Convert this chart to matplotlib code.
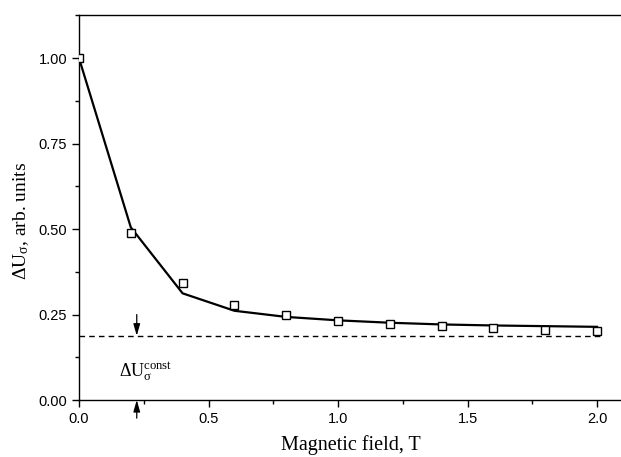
import matplotlib
matplotlib.use('Agg')
from matplotlib import pyplot as plt
from matplotlib.ticker import MultipleLocator, FormatStrFormatter

field = [0.0, 0.2, 0.4, 0.6, 0.8, 1.0, 1.2, 1.4, 1.6, 1.8, 2.0]
measured = [1.00, 0.487, 0.343, 0.279, 0.248, 0.231, 0.221, 0.215, 0.210, 0.206, 0.201]
fitted = [1.00, 0.505, 0.312, 0.261, 0.243, 0.233, 0.226, 0.221, 0.218, 0.216, 0.214]
const_level = 0.188
const_x = [0.0, 2.015]
arrow_x = 0.223

plt.rcParams['mathtext.fontset'] = 'custom'
plt.rcParams['mathtext.rm'] = 'Liberation Serif'
plt.rcParams['mathtext.it'] = 'Liberation Serif:italic'

fig = plt.figure(figsize=(6.21, 4.57), dpi=100)
ax = fig.add_axes([0.1272, 0.1247, 0.876, 0.8425])

ax.plot(field, fitted, color='black', linewidth=1.6, zorder=2)
ax.plot(field, measured, linestyle='none', marker='s', markersize=6,
        markerfacecolor='white', markeredgecolor='black', markeredgewidth=1.0, zorder=3)
ax.plot(const_x, [const_level, const_level], color='black', linestyle=(0, (4, 3)), linewidth=1.0)

arrow_style = dict(arrowstyle='-|>,head_length=0.7,head_width=0.2', color='black', lw=0.9,
                   mutation_scale=10, shrinkA=0, shrinkB=0)
ax.annotate('', xy=(arrow_x, const_level), xytext=(arrow_x, 0.25), arrowprops=arrow_style)
ax.annotate('', xy=(arrow_x, 0.0), xytext=(arrow_x, -0.053), arrowprops=arrow_style,
            annotation_clip=False)
ax.text(0.155, 0.082, r'$\Delta\mathrm{U}_{\mathrm{σ}}^{\mathrm{const}}$', fontsize=13,
        ha='left', va='center')

ax.set_xlim(0, 2.1)
ax.set_ylim(0, 1.126)
ax.xaxis.set_major_locator(MultipleLocator(0.5))
ax.xaxis.set_minor_locator(MultipleLocator(0.25))
ax.yaxis.set_major_locator(MultipleLocator(0.25))
ax.yaxis.set_minor_locator(MultipleLocator(0.125))
ax.xaxis.set_major_formatter(FormatStrFormatter('%.1f'))
ax.yaxis.set_major_formatter(FormatStrFormatter('%.2f'))

ax.tick_params(which='both', direction='out', top=False, right=False,
               labelsize=10.5, width=1.0, colors='black')
ax.tick_params(which='major', length=5)
ax.tick_params(which='minor', length=3)
for label in ax.get_xticklabels() + ax.get_yticklabels():
    label.set_family('Liberation Sans')
for spine in ax.spines.values():
    spine.set_linewidth(1.0)
ax.spines['right'].set_visible(False)

ax.set_xlabel('Magnetic field, T', fontsize=14.5, family='Liberation Serif', labelpad=7)
ax.set_ylabel(r'$\Delta\mathrm{U}_{\mathrm{σ}}$, arb. units', fontsize=14, family='Liberation Serif')
ax.yaxis.set_label_coords(-0.088, 0.466)

fig.savefig('out.png', dpi=100)
